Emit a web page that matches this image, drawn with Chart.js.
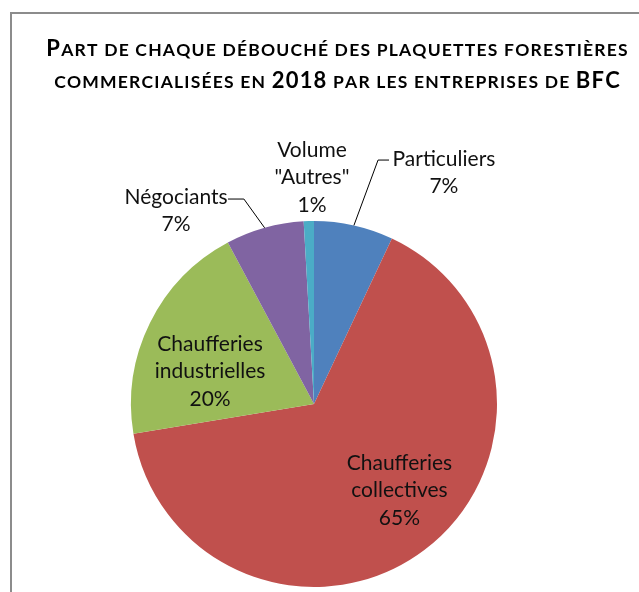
<!DOCTYPE html>
<html><head><meta charset="utf-8">
<script src="https://cdn.jsdelivr.net/npm/chart.js@4/dist/chart.umd.min.js"></script>
<style>html,body{margin:0;padding:0;background:#fff;overflow:hidden}#wrap{position:relative;width:639px;height:592px}</style>
</head><body><div id="wrap"><canvas id="c" width="639" height="592"></canvas></div>
<script>
const categories = ['Particuliers', 'Chaufferies collectives', 'Chaufferies industrielles', 'Négociants', 'Volume "Autres"'];
const labelLines = [['Particuliers'], ['Chaufferies', 'collectives'], ['Chaufferies', 'industrielles'], ['Négociants'], ['Volume', '"Autres"']];
const shares = [7.0, 65.4, 19.8, 6.9, 0.9];
const colors = ['#4F81BD', '#C0504D', '#9BBB59', '#8064A2', '#4BACC6'];
const titleLines = ['Part de chaque débouché des plaquettes forestières', 'commercialisées en 2018 par les entreprises de BFC'];

// label layout, in units of pie radius relative to the pie centre
const labelPos = [[0.71, -1.265], [0.467, 0.473], [-0.568, -0.178], [-0.754, -1.055], [-0.011, -1.238]];
const leaders = {0: [[0.350, -1.333], [0.410, -1.333]], 3: [[-0.383, -1.120], [-0.470, -1.120]]};

const LABEL_FONT = '21px Lato';
const LINE_H = 27.5;

const framePlugin = {
  id: 'frame',
  beforeDraw(chart) {
    const ctx = chart.ctx;
    ctx.save();
    ctx.strokeStyle = '#8c8c8c';
    ctx.lineWidth = 2;
    ctx.beginPath();
    ctx.moveTo(11, 600); ctx.lineTo(11, 13); ctx.lineTo(700, 13);
    ctx.stroke();
    ctx.restore();
  }
};

function drawSmallCaps(ctx, text, cx, baseline, big, small, spacing) {
  const glyphs = [];
  for (const ch of text) {
    const isBig = (ch !== ch.toLowerCase()) || /[0-9]/.test(ch);
    const s = isBig ? big : small;
    const c = isBig ? ch : ch.toUpperCase();
    ctx.font = 'bold ' + s + 'px Lato';
    glyphs.push({c, s, w: ctx.measureText(c).width});
  }
  let w = glyphs.reduce((a, g) => a + g.w + spacing, 0) - spacing;
  let x = cx - w / 2;
  ctx.textAlign = 'left'; ctx.textBaseline = 'alphabetic';
  for (const g of glyphs) { ctx.font = 'bold ' + g.s + 'px Lato'; ctx.fillText(g.c, x, baseline); x += g.w + spacing; }
  return w;
}

const titlePlugin = {
  id: 'sctitle',
  afterDraw(chart) {
    const ctx = chart.ctx;
    ctx.save();
    ctx.fillStyle = '#000';
    drawSmallCaps(ctx, titleLines[0], 337, 56, 22, 17.5, 1.2);
    drawSmallCaps(ctx, titleLines[1], 337, 88, 22, 17.5, 1.2);
    ctx.restore();
  }
};

const labelPlugin = {
  id: 'pielabels',
  afterDatasetsDraw(chart) {
    const ctx = chart.ctx;
    const meta = chart.getDatasetMeta(0);
    const total = shares.reduce((a, b) => a + b, 0);
    ctx.save();
    meta.data.forEach((arc, i) => {
      const p = arc.getProps(['x', 'y', 'outerRadius', 'startAngle', 'endAngle'], true);
      const r = p.outerRadius;
      const mid = (p.startAngle + p.endAngle) / 2;
      if (leaders[i]) {
        ctx.strokeStyle = '#000'; ctx.lineWidth = 1;
        ctx.beginPath();
        ctx.moveTo(p.x + Math.cos(mid) * r, p.y + Math.sin(mid) * r);
        leaders[i].forEach(pt => ctx.lineTo(p.x + pt[0] * r, p.y + pt[1] * r));
        ctx.stroke();
      }
      const lines = labelLines[i].concat([Math.round(shares[i] / total * 100) + '%']);
      const cx = p.x + labelPos[i][0] * r;
      const cy = p.y + labelPos[i][1] * r;
      ctx.font = LABEL_FONT; ctx.fillStyle = '#111';
      ctx.textAlign = 'center'; ctx.textBaseline = 'middle';
      lines.forEach((t, k) => ctx.fillText(t, cx, cy + (k - (lines.length - 1) / 2) * LINE_H));
    });
    ctx.restore();
  }
};

new Chart(document.getElementById('c'), {
  type: 'pie',
  data: { labels: categories, datasets: [{ data: shares, backgroundColor: colors, borderWidth: 0 }] },
  options: {
    responsive: false, animation: false,
    layout: { padding: { left: 131, right: 142, top: 221, bottom: 5 } },
    plugins: { legend: { display: false }, tooltip: { enabled: false }, title: { display: false } }
  },
  plugins: [framePlugin, labelPlugin, titlePlugin]
});
</script></body></html>
